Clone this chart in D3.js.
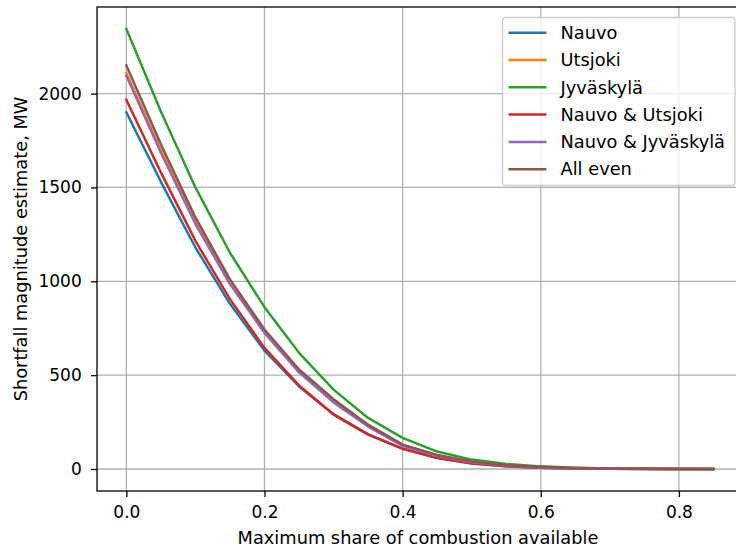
<!DOCTYPE html>
<html>
<head>
<meta charset="utf-8">
<script src="https://cdn.jsdelivr.net/npm/d3@7"></script>
<style>
  html, body { margin: 0; padding: 0; background: #fff; }
  svg { display: block; font-family: "DejaVu Sans", sans-serif; }
</style>
</head>
<body>
<svg id="chart" width="736" height="550"></svg>
<script>
// Share of combustion capacity available (x) and shortfall estimates in MW per scenario
const shares = [0, 0.05, 0.1, 0.15, 0.2, 0.25, 0.3, 0.35, 0.4, 0.45, 0.5, 0.55, 0.6, 0.65, 0.7, 0.75, 0.8, 0.85];

const nauvo           = [1900, 1530, 1180, 880, 631, 440, 292, 186, 109, 60, 30, 15, 7, 3, 1, 0, 0, 0];
const utsjoki         = [2110, 1700, 1320, 995, 735, 522, 364, 232, 128, 72, 38, 19, 9, 4, 2, 1, 0, 0];
const jyvaskyla       = [2344, 1905, 1500, 1152, 862, 619, 423, 272, 166, 93, 50, 27, 14, 7, 3, 1, 0, 0];
const nauvoUtsjoki    = [1967, 1580, 1215, 905, 645, 445, 290, 183, 107, 58, 29, 14, 6, 3, 1, 0, 0, 0];
const nauvoJyvaskyla  = [2095, 1685, 1305, 985, 725, 515, 355, 226, 123, 70, 36, 18, 8, 4, 2, 1, 0, 0];
const allEven         = [2150, 1730, 1340, 1010, 743, 530, 372, 236, 130, 75, 40, 20, 10, 5, 2, 1, 0, 0];

const seriesNames = ["Nauvo", "Utsjoki", "Jyväskylä", "Nauvo & Utsjoki", "Nauvo & Jyväskylä", "All even"];
const seriesValues = [nauvo, utsjoki, jyvaskyla, nauvoUtsjoki, nauvoJyvaskyla, allEven];
const colors = ["#1f77b4", "#ff7f0e", "#2ca02c", "#d62728", "#9467bd", "#8c564b"];

const xTicks = [0, 0.2, 0.4, 0.6, 0.8];
const yTicks = [0, 500, 1000, 1500, 2000];

const svg = d3.select("#chart");
const plotLeft = 97, plotRight = 742.8, plotTop = 7, plotBottom = 491;
const tickFont = "17px", labelFont = "17.8px";

// Axis limits padded by 5% of the data span on each side
const xMin = d3.min(shares), xMax = d3.max(shares);
const xPad = (xMax - xMin) * 0.05;
const allVals = seriesValues.flat();
const yMin = d3.min(allVals), yMax = d3.max(allVals);
const yPad = (yMax - yMin) * 0.05;

const x = d3.scaleLinear().domain([xMin - xPad, xMax + xPad]).range([plotLeft, plotRight]);
const y = d3.scaleLinear().domain([yMin - yPad, yMax + yPad]).range([plotBottom, plotTop]);

// Grid
const grid = svg.append("g");
grid.selectAll("line.vx").data(xTicks).enter().append("line")
  .attr("x1", d => x(d)).attr("x2", d => x(d))
  .attr("y1", plotTop).attr("y2", plotBottom)
  .attr("stroke", "#b0b0b0").attr("stroke-width", 1.3);
grid.selectAll("line.hy").data(yTicks).enter().append("line")
  .attr("x1", plotLeft).attr("x2", plotRight)
  .attr("y1", d => y(d)).attr("y2", d => y(d))
  .attr("stroke", "#b0b0b0").attr("stroke-width", 1.3);

// Series lines
const line = d3.line().x((d, i) => x(shares[i])).y(d => y(d));
svg.append("g").selectAll("path").data(seriesValues).enter().append("path")
  .attr("d", d => line(d))
  .attr("fill", "none")
  .attr("stroke", (d, i) => colors[i])
  .attr("stroke-width", 2.5)
  .attr("stroke-linejoin", "round")
  .attr("stroke-linecap", "square");

// Axes
const xAxis = d3.axisBottom(x).tickValues(xTicks).tickFormat(d3.format(".1f"))
  .tickSize(6).tickPadding(8.5);
const yAxis = d3.axisLeft(y).tickValues(yTicks).tickFormat(d3.format("d"))
  .tickSize(6).tickPadding(9.3);

const gx = svg.append("g").attr("transform", `translate(0,${plotBottom})`).call(xAxis);
const gy = svg.append("g").attr("transform", `translate(${plotLeft},0)`).call(yAxis);
[gx, gy].forEach(g => {
  g.select(".domain").remove();
  g.selectAll(".tick line").attr("stroke", "#000").attr("stroke-width", 1.3);
  g.selectAll(".tick text").attr("fill", "#000").style("font-size", tickFont)
    .style("font-family", "'DejaVu Sans', sans-serif");
});

// Spines
svg.append("rect")
  .attr("x", plotLeft).attr("y", plotTop)
  .attr("width", plotRight - plotLeft).attr("height", plotBottom - plotTop)
  .attr("fill", "none").attr("stroke", "#000").attr("stroke-width", 1.3);

// Axis titles
svg.append("text")
  .attr("x", 418).attr("y", 543.5)
  .attr("text-anchor", "middle")
  .style("font-size", labelFont)
  .text("Maximum share of combustion available");
svg.append("text")
  .attr("transform", `translate(26.5,${(plotTop + plotBottom) / 2}) rotate(-90)`)
  .attr("text-anchor", "middle")
  .style("font-size", labelFont)
  .text("Shortfall magnitude estimate, MW");

// Legend
const legend = svg.append("g");
legend.append("rect")
  .attr("x", 502.5).attr("y", 17.5)
  .attr("width", 232.5).attr("height", 168)
  .attr("rx", 3).attr("ry", 3)
  .attr("fill", "rgba(255,255,255,0.8)")
  .attr("stroke", "#cccccc").attr("stroke-width", 1.3);
const rowY = i => 32.7 + i * 27.3;
seriesNames.forEach((name, i) => {
  legend.append("line")
    .attr("x1", 508.5).attr("x2", 546.5)
    .attr("y1", rowY(i)).attr("y2", rowY(i))
    .attr("stroke", colors[i]).attr("stroke-width", 2.5);
  legend.append("text")
    .attr("x", 560.5).attr("y", rowY(i))
    .attr("dy", "0.35em")
    .style("font-size", labelFont)
    .text(name);
});
</script>
</body>
</html>
